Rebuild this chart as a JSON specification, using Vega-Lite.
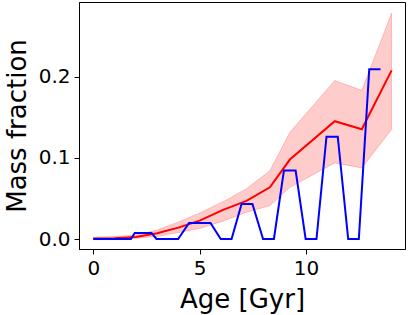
{
  "$schema": "https://vega.github.io/schema/vega-lite/v6.json",
  "width": 326,
  "height": 247,
  "autosize": "none",
  "padding": {"left": 79, "top": 2, "right": 3, "bottom": 66},
  "background": "white",
  "config": {
    "font": "DejaVu Sans",
    "view": {"stroke": "black", "strokeWidth": 1},
    "axis": {
      "grid": false,
      "domainColor": "black",
      "tickColor": "black",
      "labelColor": "black",
      "titleColor": "black",
      "labelFont": "DejaVu Sans",
      "titleFont": "DejaVu Sans",
      "labelFontSize": 20,
      "titleFontSize": 26,
      "titleFontWeight": "normal",
      "tickSize": 5,
      "labelPadding": 4
    }
  },
  "datasets": {
    "red": [
      {"age": 0, "med": 0.0005, "lo": 0.0, "hi": 0.002},
      {"age": 1, "med": 0.001, "lo": 0.0, "hi": 0.003},
      {"age": 2, "med": 0.0025, "lo": 0.001, "hi": 0.005},
      {"age": 3, "med": 0.007, "lo": 0.003, "hi": 0.011},
      {"age": 4, "med": 0.014, "lo": 0.008, "hi": 0.021},
      {"age": 5, "med": 0.0226, "lo": 0.013, "hi": 0.032},
      {"age": 6.1, "med": 0.0358, "lo": 0.022, "hi": 0.046},
      {"age": 7.2, "med": 0.047, "lo": 0.033, "hi": 0.062},
      {"age": 8.3, "med": 0.0636, "lo": 0.041, "hi": 0.084},
      {"age": 9.24, "med": 0.0978, "lo": 0.0636, "hi": 0.1314},
      {"age": 11.35, "med": 0.145, "lo": 0.0937, "hi": 0.195},
      {"age": 12.62, "med": 0.135, "lo": 0.0875, "hi": 0.183},
      {"age": 14.02, "med": 0.2075, "lo": 0.1348, "hi": 0.278}
    ],
    "blue": [
      {"age": 0, "frac": 0},
      {"age": 1.77, "frac": 0},
      {"age": 1.95, "frac": 0.0074},
      {"age": 2.74, "frac": 0.0074},
      {"age": 2.97, "frac": 0},
      {"age": 3.99, "frac": 0},
      {"age": 4.5, "frac": 0.0197},
      {"age": 5.51, "frac": 0.0197},
      {"age": 5.99, "frac": 0},
      {"age": 6.5, "frac": 0},
      {"age": 6.97, "frac": 0.043},
      {"age": 7.48, "frac": 0.043},
      {"age": 7.98, "frac": 0},
      {"age": 8.49, "frac": 0},
      {"age": 8.96, "frac": 0.0842},
      {"age": 9.51, "frac": 0.0842},
      {"age": 9.98, "frac": 0},
      {"age": 10.49, "frac": 0},
      {"age": 10.96, "frac": 0.126},
      {"age": 11.49, "frac": 0.126},
      {"age": 11.98, "frac": 0},
      {"age": 12.48, "frac": 0},
      {"age": 12.97, "frac": 0.2088},
      {"age": 13.5, "frac": 0.2088}
    ]
  },
  "layer": [
    {
      "data": {"name": "red"},
      "mark": {"type": "area", "color": "red", "fillOpacity": 0.2, "stroke": "red", "strokeOpacity": 0.2, "strokeWidth": 1},
      "encoding": {
        "x": {"field": "age", "type": "quantitative",
              "scale": {"domain": [-0.67, 14.65], "nice": false, "zero": false},
              "axis": {"values": [0, 5, 10], "title": "Age [Gyr]", "titlePadding": 8}},
        "y": {"field": "lo", "type": "quantitative",
              "scale": {"domain": [-0.0123, 0.2917], "nice": false, "zero": false},
              "axis": {"values": [0, 0.1, 0.2], "format": ".1f", "title": "Mass fraction", "titlePadding": 8}},
        "y2": {"field": "hi"}
      }
    },
    {
      "data": {"name": "red"},
      "mark": {"type": "line", "color": "red", "strokeWidth": 2},
      "encoding": {
        "x": {"field": "age", "type": "quantitative"},
        "y": {"field": "med", "type": "quantitative"}
      }
    },
    {
      "data": {"name": "blue"},
      "mark": {"type": "line", "color": "blue", "strokeWidth": 2},
      "encoding": {
        "x": {"field": "age", "type": "quantitative"},
        "y": {"field": "frac", "type": "quantitative"}
      }
    }
  ]
}
